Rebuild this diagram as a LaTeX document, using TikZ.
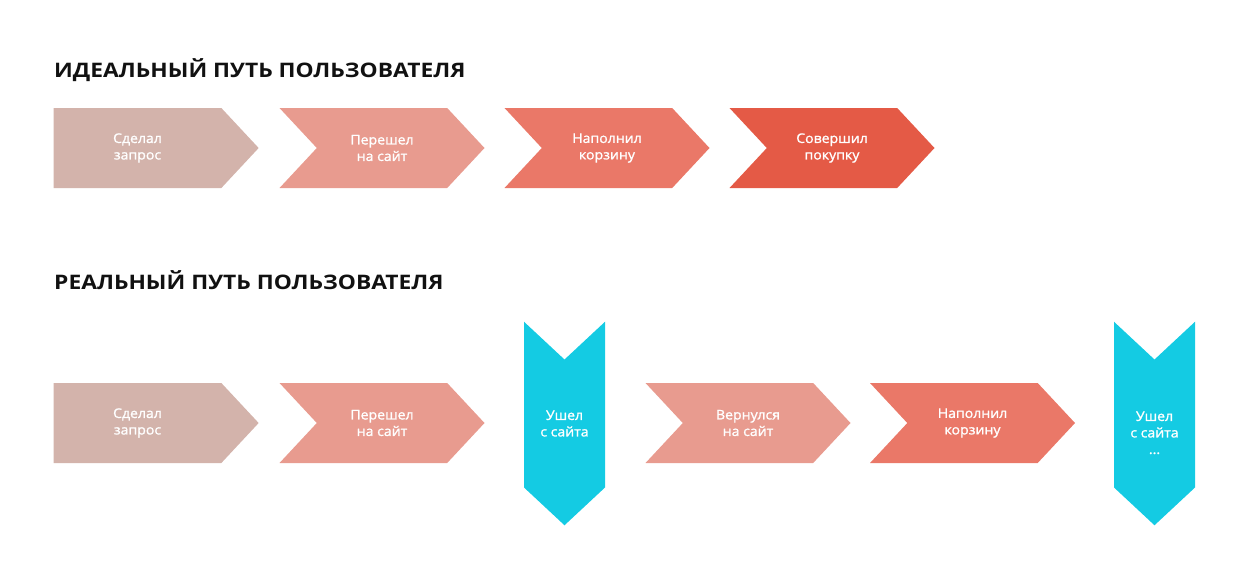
\documentclass[tikz,border=0pt]{standalone}
\usepackage{fontspec}
\setmainfont{Open Sans}
\newfontfamily\headfont[FakeStretch=1.14]{Open Sans Bold}
\newfontfamily\stagefont[FakeStretch=1.06, FakeBold=1.2]{Open Sans}
\usetikzlibrary{shapes.symbols}
\definecolor{stageA}{HTML}{D3B3AB}
\definecolor{stageB}{HTML}{E89B8F}
\definecolor{stageC}{HTML}{EA7868}
\definecolor{stageD}{HTML}{E45A46}
\definecolor{leftsite}{HTML}{14CBE3}
\definecolor{headtext}{HTML}{111111}
\begin{document}
\begin{tikzpicture}[
  x=1pt, y=-1pt,
  head/.style={anchor=base west, inner sep=0, text=headtext, font=\headfont\fontsize{20}{24}\selectfont},
  stage/.style={signal, signal to=east, signal from=west, signal pointer angle=94,
    minimum width=205pt, minimum height=80pt, inner sep=0, draw=none,
    text=white, align=center, font=\stagefont\fontsize{13.3}{16.5}\selectfont},
  start/.style={stage, signal from=nowhere},
  exitbox/.style={signal, signal to=south, signal from=north, signal pointer angle=94,
    minimum width=81pt, minimum height=173pt, inner sep=0, draw=none, fill=leftsite,
    text=white, align=center, font=\stagefont\fontsize{13.3}{16.5}\selectfont}
]
\useasboundingbox (0,0) rectangle (1250,581);
% ideal path
\node[head] (ideal) at (54,77) {ИДЕАЛЬНЫЙ ПУТЬ ПОЛЬЗОВАТЕЛЯ};
\node[start, fill=stageA] (i1) at (137.5,148) {Сделал\\запрос};
\foreach \i/\x/\col/\txt in {2/382/stageB/Перешел\\на сайт,3/607/stageC/Наполнил\\корзину,4/832/stageD/Совершил\\покупку} {
  \node[stage, fill=\col] (i\i) at (\x,148) {\txt};
}
% real path
\node[head] (real) at (54,289) {РЕАЛЬНЫЙ ПУТЬ ПОЛЬЗОВАТЕЛЯ};
\node[start, fill=stageA] (r1) at (137.5,423) {Сделал\\запрос};
\node[stage, fill=stageB] (r2) at (382,423) {Перешел\\на сайт};
\node[exitbox] (r3) at (564.5,423.5) {Ушел\\с сайта};
\node[stage, fill=stageB] (r4) at (748,423) {Вернулся\\на сайт};
\node[stage, fill=stageC] (r5) at (972.5,423) {Наполнил\\корзину};
\node[exitbox] (r6) at (1154.5,423.5) {\strut\\Ушел\\с сайта\\...};
\end{tikzpicture}
\end{document}
